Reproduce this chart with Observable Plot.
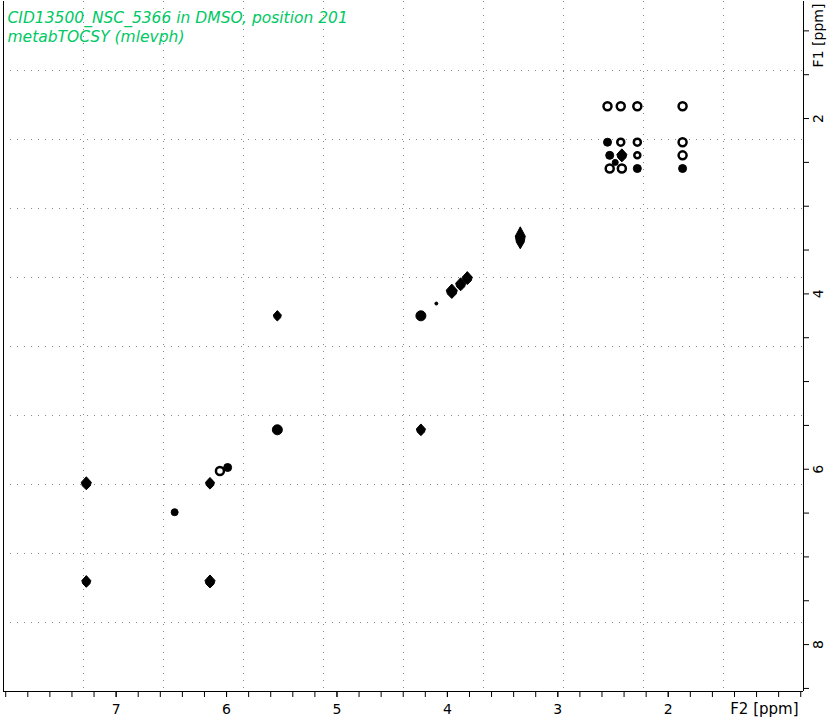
<!DOCTYPE html>
<html><head><meta charset="utf-8">
<script src="https://cdn.jsdelivr.net/npm/d3@7"></script>
<script src="https://cdn.jsdelivr.net/npm/@observablehq/plot@0.6"></script>
<style>body{margin:0;background:#fff} svg{display:block}</style>
</head><body><div id="chart"></div>
<script>
// ---- text ----
const titleLines = ["CID13500_NSC_5366 in DMSO, position 201", "metabTOCSY (mlevph)"];
const xLabel = "F2 [ppm]";
const yLabel = "F1 [ppm]";
// ---- axes ----
const xDomain = [8.02, 0.775];
const yDomain = [8.535, 0.665];
const xTickLabels = [2, 3, 4, 5, 6, 7];
const yTickLabels = [2, 4, 6, 8];
const xMinorStep = 0.2;
const yMinorStep = 0.5;
// ---- peaks (F2 ppm, F1 ppm, contour half-size px, contour look) ----
const peakF2 = [7.27, 7.27, 6.15, 6.15, 6.47, 6.06, 5.99, 5.54, 5.54, 4.24, 4.24, 4.10, 3.96, 3.88, 3.82, 3.34,
  2.55, 2.43, 2.28, 1.87,
  2.55, 2.43, 2.28, 1.87,
  2.53, 2.42, 2.28, 1.87,
  2.48,
  2.53, 2.42, 2.28, 1.87];
const peakF1 = [6.16, 7.28, 6.16, 7.28, 6.49, 6.02, 5.98, 5.55, 4.25, 4.25, 5.55, 4.11, 3.97, 3.89, 3.82, 3.36,
  1.86, 1.86, 1.86, 1.86,
  2.27, 2.27, 2.27, 2.27,
  2.42, 2.42, 2.42, 2.42,
  2.50,
  2.57, 2.57, 2.57, 2.57];
const peakSize = [5, 4.5, 4.5, 5, 3.5, 4, 4, 5, 4, 5, 4.5, 1.5, 5.5, 5, 5, 5.5,
  4, 4, 4, 4,
  4, 3.5, 3.5, 4,
  4, 5, 3, 4,
  3,
  4, 4, 4, 4];
const peakLook = ["diamond", "diamond", "diamond", "diamond", "blob", "ring", "blob", "blob", "diamond", "blob", "diamond", "blob", "diamond", "diamond", "diamond", "tall",
  "ring", "ring", "ring", "ring",
  "blob", "ring", "ring", "ring",
  "blob", "diamond", "ring", "ring",
  "blob",
  "ring", "ring", "blob", "blob"];

const peaks = peakF2.map((f2, i) => ({f2, f1: peakF1[i], r: peakSize[i], look: peakLook[i]}));

// contour-like glyphs
const diamondSym = {draw(ctx, size) {const r = Math.sqrt(size / Math.PI); ctx.moveTo(0, -1.3 * r); ctx.lineTo(r, -0.2 * r); ctx.lineTo(0.8 * r, 0.5 * r); ctx.lineTo(0, 1.3 * r); ctx.lineTo(-0.8 * r, 0.5 * r); ctx.lineTo(-r, -0.2 * r); ctx.closePath();}};
const tallSym = {draw(ctx, size) {const r = Math.sqrt(size / Math.PI); ctx.moveTo(0, -2 * r); ctx.lineTo(0.9 * r, -0.3 * r); ctx.lineTo(0.7 * r, 0.8 * r); ctx.lineTo(0, 2 * r); ctx.lineTo(-0.7 * r, 0.8 * r); ctx.lineTo(-0.9 * r, -0.3 * r); ctx.closePath();}};

const xMinor = d3.range(8.0, 0.7, -xMinorStep);
const yMinor = d3.range(1.0, 8.6, yMinorStep);
const gridX = d3.range(1, 10).map(i => xDomain[0] + i * (xDomain[1] - xDomain[0]) / 10);
const gridY = d3.range(1, 10).map(i => yDomain[1] + i * (yDomain[0] - yDomain[1]) / 10);

const font = "DejaVu Sans";
const green = "#00c864";

const chart = Plot.plot({
  width: 831,
  height: 720,
  marginLeft: 3,
  marginRight: 28,
  marginTop: 1,
  marginBottom: 29,
  style: {fontFamily: font, background: "#fff", color: "#000"},
  x: {domain: xDomain},
  y: {domain: yDomain},
  r: {type: "identity"},
  marks: [
    Plot.ruleX(gridX, {stroke: "#8a8a8a", strokeDasharray: "1,6"}),
    Plot.ruleY(gridY, {stroke: "#8a8a8a", strokeDasharray: "1,6"}),
    Plot.ruleX([xDomain[0], xDomain[1]], {stroke: "#000"}),
    Plot.ruleY([yDomain[0]], {stroke: "#000"}),
    Plot.axisX(xMinor, {tickSize: 6, tickFormat: () => "", label: null}),
    Plot.axisX(xTickLabels, {tickSize: 6, tickPadding: 7, fontSize: 14, label: null, tickFormat: d => String(d)}),
    Plot.axisY(yMinor, {anchor: "right", tickSize: 5, tickFormat: () => "", label: null}),
    Plot.text(yTickLabels, {y: d => d, frameAnchor: "right", dx: 15, rotate: -90, textAnchor: "middle", lineAnchor: "middle", text: d => String(d), fontSize: 14, fill: "#000"}),
    Plot.text([xLabel], {frameAnchor: "bottom-right", dx: -5, dy: 18, textAnchor: "end", lineAnchor: "middle", fontSize: 15, fill: "#000"}),
    Plot.text([yLabel], {frameAnchor: "top-right", dx: 15, dy: 34, rotate: -90, textAnchor: "middle", lineAnchor: "middle", fontSize: 14, fill: "#000"}),
    Plot.text([titleLines.join("\n")], {frameAnchor: "top-left", dx: 4, dy: 8, lineAnchor: "top", textAnchor: "start", lineHeight: 1.23, fontSize: 15.5, fontStyle: "italic", fill: green}),
    Plot.dot(peaks.filter(p => p.look === "blob"), {x: "f2", y: "f1", r: "r", fill: "#000", stroke: "#000", strokeWidth: 1}),
    Plot.dot(peaks.filter(p => p.look === "ring"), {x: "f2", y: "f1", r: "r", fill: "#fff", stroke: "#000", strokeWidth: 2.5}),
    Plot.dot(peaks.filter(p => p.look === "diamond"), {x: "f2", y: "f1", r: "r", symbol: diamondSym, fill: "#000", stroke: "#000", strokeWidth: 1}),
    Plot.dot(peaks.filter(p => p.look === "tall"), {x: "f2", y: "f1", r: "r", symbol: tallSym, fill: "#000", stroke: "#000", strokeWidth: 1})
  ]
});
document.getElementById("chart").appendChild(chart);
</script>
</body></html>
